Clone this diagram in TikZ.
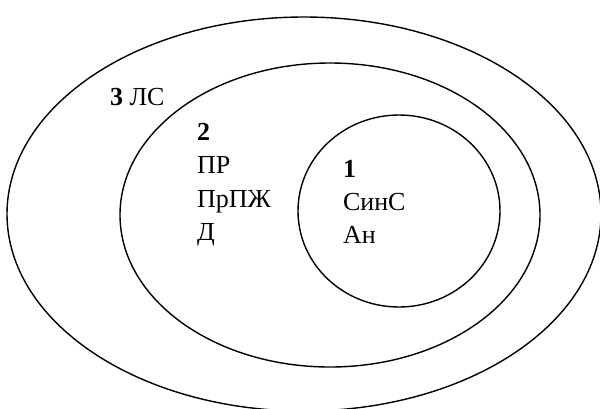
\documentclass[tikz,border=0pt]{standalone}
\usepackage{fontspec}
\setmainfont{Liberation Serif}
\begin{document}
\begin{tikzpicture}[x=1pt,y=-1pt,
  ring/.style={draw=black,line width=1.4pt},
  lbl/.style={anchor=base west,inner sep=0pt,outer sep=0pt,font=\fontsize{26}{30}\selectfont}]
  \useasboundingbox (0,0) rectangle (600,408);
  \clip (0,0) rectangle (600,408);
  % nested sets
  \draw[ring] (304,214) ellipse [x radius=297,y radius=197];
  \draw[ring] (330,215) ellipse [x radius=210,y radius=152];
  \draw[ring] (399,211) ellipse [x radius=101,y radius=96];
  % outer level
  \node[lbl] (n3) at (110,105) {\textbf{3} ЛС};
  % middle level
  \node[lbl] (n2) at (197,140) {\textbf{2}};
  \node[lbl] (pr) at (197,173) {ПР};
  \node[lbl] (prpzh) at (197,207) {ПрПЖ};
  \node[lbl] (d) at (197,240) {Д};
  % inner level
  \node[lbl] (n1) at (343,177) {\textbf{1}};
  \node[lbl] (sins) at (343,210) {СинС};
  \node[lbl] (an) at (343,243) {Ан};
\end{tikzpicture}
\end{document}
